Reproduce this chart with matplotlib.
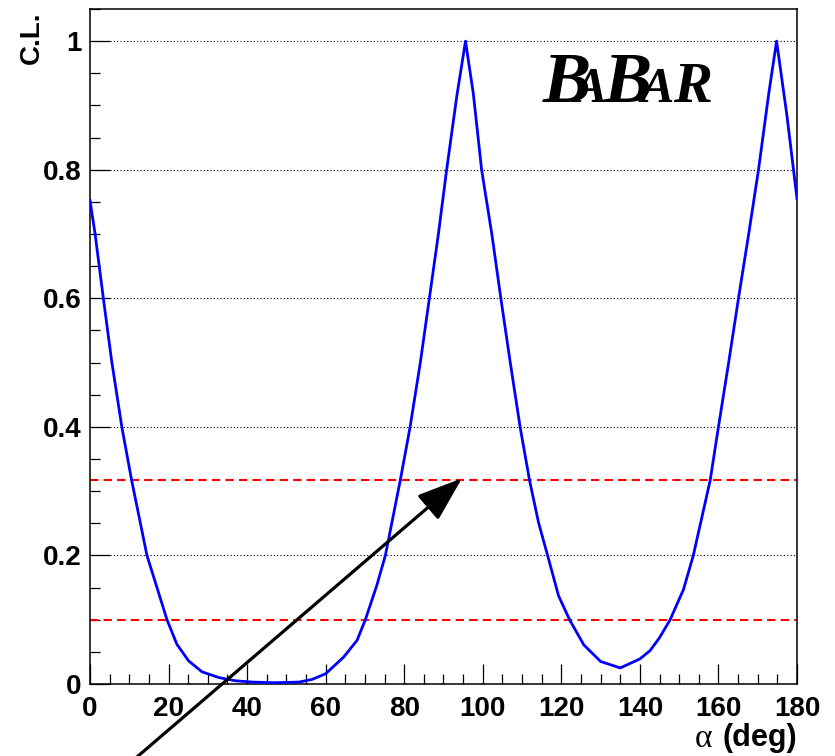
import matplotlib
matplotlib.use("Agg")
import matplotlib.pyplot as plt
from matplotlib.ticker import MultipleLocator, FuncFormatter

# C.L. scan vs alpha
alpha = [0, 1.3, 3.4, 5.5, 8.1, 10.6, 14.5, 17.0, 19.6, 22.1, 25.1, 28.5, 32.8,
         37, 41.3, 47, 53.2, 56.5, 60, 64.6, 68, 70.1, 73, 75.2, 79, 81.5, 84.1,
         86.4, 88.7, 90.8, 93.4, 95.6, 97.6, 99.7, 102.3, 104.6, 107.0, 109.5, 111.9,
         114.2, 116.5, 119.3, 122.1, 125.7, 130, 135, 140, 142.6, 145, 147.7, 151.1,
         153.6, 157.9, 160, 162.6, 165.1, 167.7, 170.2, 172.8, 174.8, 177.4, 180]
cl = [0.752, 0.70, 0.60, 0.503, 0.40, 0.317, 0.20, 0.151, 0.10, 0.062, 0.036,
      0.019, 0.010, 0.005, 0.003, 0.002, 0.003, 0.007, 0.016, 0.042, 0.068, 0.10, 0.153,
      0.20, 0.317, 0.40, 0.50, 0.60, 0.70, 0.80, 0.915, 1.0, 0.918, 0.80, 0.70,
      0.60, 0.50, 0.40, 0.317, 0.251, 0.20, 0.137, 0.10, 0.061, 0.035, 0.025, 0.039,
      0.052, 0.072, 0.10, 0.147, 0.20, 0.317, 0.40, 0.50, 0.60, 0.70, 0.80,
      0.918, 1.0, 0.886, 0.755]

grid_levels = [0.2, 0.4, 0.6, 0.8, 1.0]
cl_levels = [0.317, 0.1]          # 1 sigma and 90% lines
arrow_tip = (94.7, 0.32)
arrow_tail = (5, -0.15)

plt.rcParams['font.family'] = 'Liberation Sans'
plt.rcParams['font.weight'] = 'bold'

fig = plt.figure(figsize=(8.35, 7.56), dpi=100)
ax = fig.add_axes([90/835, 1 - 684/756, 707/835, 675/756])

for lv in grid_levels:
    ax.axhline(lv, color='black', lw=0.8, ls=(0, (1, 2)), zorder=1)
for lv in cl_levels:
    ax.axhline(lv, color='red', lw=1.5, ls=(0, (4, 2.5)), zorder=2)

ax.plot(alpha, cl, color='blue', lw=2, zorder=3)

ax.set_xlim(0, 180)
ax.set_ylim(0, 1.05)
ax.xaxis.set_major_locator(MultipleLocator(20))
ax.xaxis.set_minor_locator(MultipleLocator(5))
ax.yaxis.set_major_locator(MultipleLocator(0.2))
ax.yaxis.set_minor_locator(MultipleLocator(0.05))
ax.yaxis.set_major_formatter(FuncFormatter(lambda v, p: f'{v:g}'))
ax.tick_params(which='both', direction='in', top=False, right=False, width=0.9)
ax.tick_params(which='major', length=14.5, labelsize=20)
ax.tick_params(which='minor', length=7.2)
ax.tick_params(axis='x', pad=9)
ax.tick_params(axis='y', pad=6)
for s in ax.spines.values():
    s.set_linewidth(1.1)

ax.annotate('', xy=arrow_tip, xytext=arrow_tail, annotation_clip=False,
            arrowprops=dict(arrowstyle='-|>,head_length=2.8,head_width=1.0',
                            mutation_scale=10, lw=2.3, color='black',
                            shrinkA=0, shrinkB=0))

fig.text(32/835, 1 - 12/756, 'C.L.', rotation=90, ha='center', va='top',
         fontsize=20, fontweight='bold')
fig.text(797/835, 1 - 738/756, '(deg)', ha='right', va='center',
         fontsize=22, fontweight='bold')
fig.text(703/835, 1 - 739/756, 'α', ha='center', va='center',
         fontsize=24, fontweight='normal', family='Liberation Serif')

# BaBar logo
base = 1 - 102/756
logo = [('B', 543, 52), ('A', 574, 36), ('B', 604, 52), ('A', 641, 36), ('R', 673, 42)]
for ch, xp, fs in logo:
    fig.text(xp/835, base, ch, ha='left', va='baseline', fontsize=fs,
             family='Liberation Serif', fontweight='bold', style='italic')

fig.savefig('out.png', dpi=100)
